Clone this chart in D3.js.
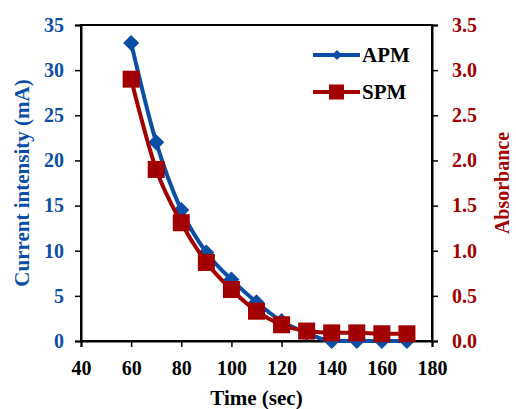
<!DOCTYPE html>
<html>
<head>
<meta charset="utf-8">
<script src="https://cdn.jsdelivr.net/npm/d3@7"></script>
<style>
  body { margin: 0; background: #fff; }
  text { font-family: "Liberation Serif", "Times New Roman", serif; font-weight: bold; }
</style>
</head>
<body>
<div id="chart"></div>
<script>
// data
var times = [60, 70, 80, 90, 100, 110, 120, 130, 140, 150, 160, 170];
var apmCurrent = [33, 22, 14.5, 9.8, 6.8, 4.3, 2.2, 0.9, 0, 0, 0, 0];
var spmAbsorbance = [2.9, 1.9, 1.31, 0.87, 0.57, 0.33, 0.18, 0.11, 0.09, 0.09, 0.08, 0.08];
var xTicks = [40, 60, 80, 100, 120, 140, 160, 180];
var leftTicks = [0, 5, 10, 15, 20, 25, 30, 35];
var rightTicks = [0, 0.5, 1, 1.5, 2, 2.5, 3, 3.5];

const width = 516;
const height = 409;
const margin = {top: 25, right: 84, bottom: 68, left: 81};
const blue = '#0b4ea6';
const red = '#a20000';
const tickFont = '20px';
const titleFont = '21px';

const svg = d3.select('#chart').append('svg')
    .attr('width', width)
    .attr('height', height);

const x = d3.scaleLinear().domain([40, 180]).range([margin.left, width - margin.right]);
const yLeft = d3.scaleLinear().domain([0, 35]).range([height - margin.bottom, margin.top]);
const yRight = d3.scaleLinear().domain([0, 3.5]).range([height - margin.bottom, margin.top]);

// frame
svg.append('rect')
    .attr('x', margin.left)
    .attr('y', margin.top)
    .attr('width', width - margin.left - margin.right)
    .attr('height', height - margin.top - margin.bottom)
    .attr('fill', 'none')
    .attr('stroke', '#000')
    .attr('stroke-width', 2);

// axes
const xAxis = svg.append('g')
    .attr('transform', `translate(0,${height - margin.bottom})`)
    .call(d3.axisBottom(x).tickValues(xTicks).tickSize(6).tickPadding(14));
xAxis.selectAll('text').attr('fill', '#000').style('font-size', tickFont);

const leftAxis = svg.append('g')
    .attr('transform', `translate(${margin.left},0)`)
    .call(d3.axisLeft(yLeft).tickValues(leftTicks).tickSize(6).tickPadding(11));
leftAxis.selectAll('text').attr('fill', blue).style('font-size', tickFont);

const rightAxis = svg.append('g')
    .attr('transform', `translate(${width - margin.right},0)`)
    .call(d3.axisRight(yRight).tickValues(rightTicks).tickSize(6).tickPadding(14)
        .tickFormat(d3.format('.1f')));
rightAxis.selectAll('text').attr('fill', red).style('font-size', tickFont);

[xAxis, leftAxis, rightAxis].forEach(function(g) {
    g.select('.domain').attr('stroke', '#000').attr('stroke-width', 2);
    g.selectAll('.tick line').attr('stroke', '#000').attr('stroke-width', 1.5);
});

// axis titles
svg.append('text')
    .attr('x', (margin.left + width - margin.right) / 2)
    .attr('y', 405)
    .attr('text-anchor', 'middle')
    .style('font-size', titleFont)
    .attr('fill', '#000')
    .text('Time (sec)');

const midY = (margin.top + height - margin.bottom) / 2;
svg.append('text')
    .attr('transform', `translate(29,${midY}) rotate(-90)`)
    .attr('text-anchor', 'middle')
    .style('font-size', titleFont)
    .attr('fill', blue)
    .text('Current intensity (mA)');

svg.append('text')
    .attr('transform', `translate(502,${midY}) rotate(-90)`)
    .attr('text-anchor', 'middle')
    .attr('dy', '0.35em')
    .style('font-size', '20px')
    .attr('fill', red)
    .text('Absorbance');

// series
const apmData = times.map((t, i) => ({t: t, v: apmCurrent[i]}));
const spmData = times.map((t, i) => ({t: t, v: spmAbsorbance[i]}));

const apmLine = d3.line().x(d => x(d.t)).y(d => yLeft(d.v)).curve(d3.curveMonotoneX);
const spmLine = d3.line().x(d => x(d.t)).y(d => yRight(d.v)).curve(d3.curveMonotoneX);

svg.append('path')
    .datum(apmData)
    .attr('d', apmLine)
    .attr('fill', 'none')
    .attr('stroke', blue)
    .attr('stroke-width', 4);

const diamond = d3.symbol().type(d3.symbolDiamond2).size(165);
svg.selectAll('.apm')
    .data(apmData)
    .enter()
    .append('path')
    .attr('class', 'apm')
    .attr('d', diamond)
    .attr('transform', d => `translate(${x(d.t)},${yLeft(d.v)})`)
    .attr('fill', blue);

svg.append('path')
    .datum(spmData)
    .attr('d', spmLine)
    .attr('fill', 'none')
    .attr('stroke', red)
    .attr('stroke-width', 4);

svg.selectAll('.spm')
    .data(spmData)
    .enter()
    .append('rect')
    .attr('class', 'spm')
    .attr('x', d => x(d.t) - 8.5)
    .attr('y', d => yRight(d.v) - 8.5)
    .attr('width', 17)
    .attr('height', 17)
    .attr('fill', red);

// legend
const legend = svg.append('g');
const smallDiamond = d3.symbol().type(d3.symbolDiamond2).size(65);
const legendItems = [
    {name: 'APM', color: blue, shape: 'diamond', y: 55},
    {name: 'SPM', color: red, shape: 'square', y: 92}
];
legendItems.forEach(function(item) {
    legend.append('line')
        .attr('x1', 313).attr('x2', 360)
        .attr('y1', item.y).attr('y2', item.y)
        .attr('stroke', item.color)
        .attr('stroke-width', 4);
    if (item.shape == 'diamond') {
        legend.append('path')
            .attr('d', smallDiamond)
            .attr('transform', `translate(337,${item.y})`)
            .attr('fill', item.color);
    } else {
        legend.append('rect')
            .attr('x', 329).attr('y', item.y - 7.5)
            .attr('width', 15).attr('height', 15)
            .attr('fill', item.color);
    }
    legend.append('text')
        .attr('x', 362)
        .attr('y', item.y)
        .attr('dy', '0.35em')
        .style('font-size', titleFont)
        .attr('fill', '#000')
        .text(item.name);
});
</script>
</body>
</html>
